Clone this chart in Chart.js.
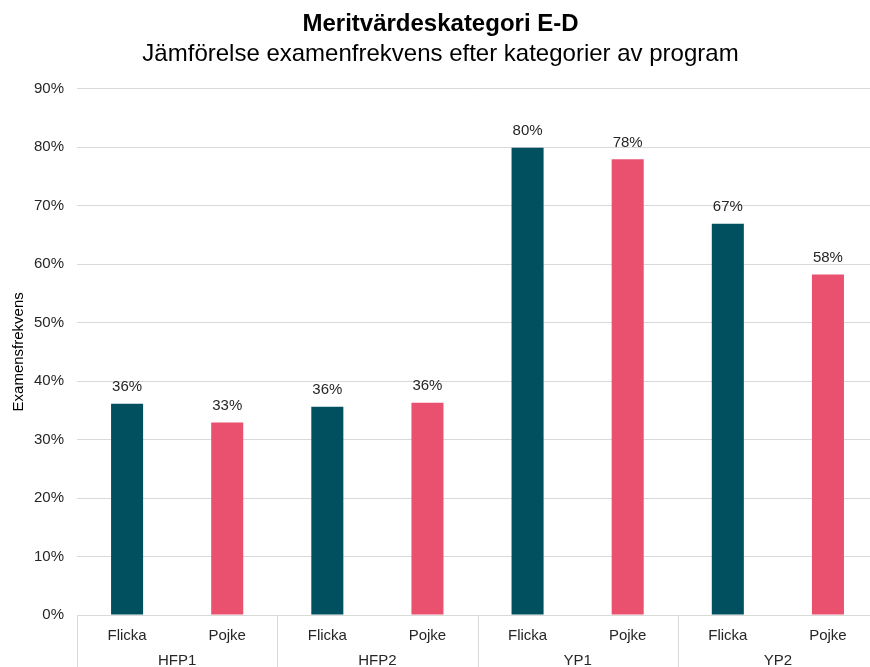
<!DOCTYPE html>
<html>
<head>
<meta charset="utf-8">
<script src="https://cdn.jsdelivr.net/npm/chart.js@4"></script>
<style>
  html, body { margin: 0; padding: 0; background: #fff; overflow: hidden; }
  #wrap { width: 878px; height: 667px; }
</style>
</head>
<body>
<div id="wrap"><canvas id="chart"></canvas></div>
<script>
const categories = ["Flicka", "Pojke", "Flicka", "Pojke", "Flicka", "Pojke", "Flicka", "Pojke"];
const groups = ["HFP1", "HFP2", "YP1", "YP2"];
const values = [36.1, 32.9, 35.6, 36.3, 79.9, 77.9, 66.9, 58.2];
const barColors = ["#01505F", "#E9516E", "#01505F", "#E9516E", "#01505F", "#E9516E", "#01505F", "#E9516E"];

const font = "'Liberation Sans', Arial, sans-serif";
const lineColor = "#d9d9d9";

// value labels above bars + group row under the x axis
const extras = {
  id: "extras",
  afterDatasetsDraw(chart) {
    const ctx = chart.ctx;
    const meta = chart.getDatasetMeta(0);
    ctx.save();
    ctx.font = "15px " + font;
    ctx.fillStyle = "#262626";
    ctx.textAlign = "center";
    ctx.textBaseline = "bottom";
    meta.data.forEach((bar, i) => {
      ctx.fillText(Math.round(values[i]) + "%", bar.x, bar.y - 9);
    });
    ctx.restore();
  },
  afterDraw(chart) {
    const ctx = chart.ctx;
    const x = chart.scales.x;
    const area = chart.chartArea;
    const w = x.getPixelForValue(1) - x.getPixelForValue(0);
    ctx.save();
    ctx.strokeStyle = lineColor;
    ctx.lineWidth = 1;
    for (let i = 0; i <= categories.length; i += 2) {
      const px = Math.round(x.getPixelForValue(i) - w / 2) + 0.5;
      ctx.beginPath();
      ctx.moveTo(px, area.bottom);
      ctx.lineTo(px, chart.height);
      ctx.stroke();
    }
    ctx.font = "15px " + font;
    ctx.fillStyle = "#262626";
    ctx.textAlign = "center";
    ctx.textBaseline = "middle";
    groups.forEach((g, j) => {
      const cx = (x.getPixelForValue(j * 2) + x.getPixelForValue(j * 2 + 1)) / 2;
      ctx.fillText(g, cx, area.bottom + 46);
    });
    ctx.restore();
  }
};

new Chart(document.getElementById("chart"), {
  type: "bar",
  data: {
    labels: categories,
    datasets: [{
      data: values,
      backgroundColor: barColors,
      barPercentage: 0.32,
      categoryPercentage: 1
    }]
  },
  options: {
    responsive: true,
    maintainAspectRatio: false,
    animation: false,
    layout: { padding: { top: 0, right: 0, bottom: 10, left: 3 } },
    plugins: {
      legend: { display: false },
      tooltip: { enabled: false },
      title: {
        display: true,
        text: "Meritvärdeskategori E-D",
        color: "#000",
        font: { family: font, size: 24, weight: "bold" },
        padding: { top: 10, bottom: 1 }
      },
      subtitle: {
        display: true,
        text: "Jämförelse examenfrekvens efter kategorier av program",
        color: "#000",
        font: { family: font, size: 24 },
        padding: { bottom: 20 }
      }
    },
    scales: {
      x: {
        grid: { display: true, drawOnChartArea: false, drawTicks: false },
        border: { display: true, color: lineColor },
        ticks: { color: "#262626", font: { family: font, size: 15 }, padding: 12 }
      },
      y: {
        min: 0,
        max: 90,
        grid: { color: lineColor, drawTicks: false },
        border: { display: false },
        ticks: {
          stepSize: 10,
          color: "#262626",
          font: { family: font, size: 15 },
          padding: 13,
          callback: v => v + "%"
        },
        title: {
          display: true,
          text: "Examensfrekvens",
          color: "#000",
          font: { family: font, size: 15 },
          padding: { top: 7, bottom: -7 }
        }
      }
    }
  },
  plugins: [extras]
});
</script>
</body>
</html>
